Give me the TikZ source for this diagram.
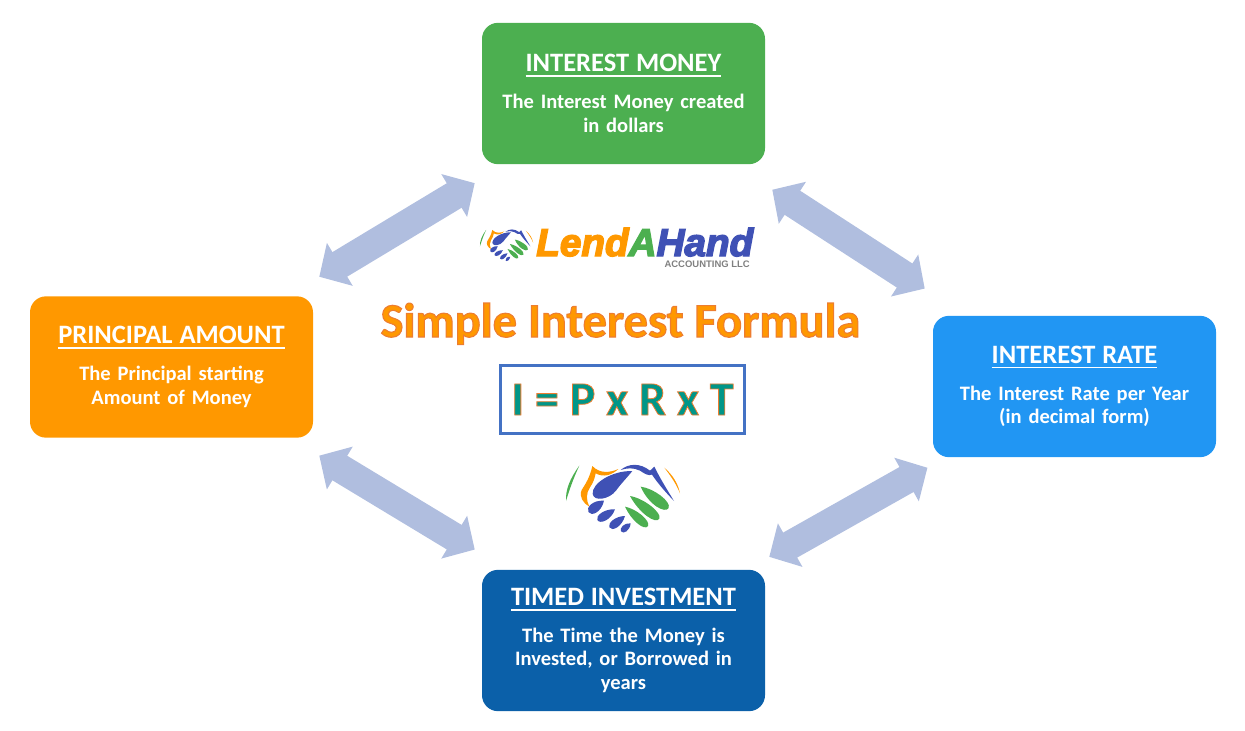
\documentclass[tikz,border=0pt]{standalone}
\usepackage{fontspec}
\setmainfont{Carlito}
\newfontfamily\logofont{Liberation Sans}
\newfontfamily\bodyfont{Carlito}[WordSpace=0.75]
\usetikzlibrary{arrows.meta}
\definecolor{boxgreen}{HTML}{4CAF50}
\definecolor{boxorange}{HTML}{FF9800}
\definecolor{boxblue}{HTML}{2196F3}
\definecolor{boxdark}{HTML}{0B60A9}
\definecolor{arrowblue}{HTML}{B0BEDF}
\definecolor{logoblue}{HTML}{3F51B5}
\definecolor{frameblue}{HTML}{4472C4}
\definecolor{formteal}{HTML}{009688}
\newsavebox{\headbox}
\newcommand{\heading}[1]{\sbox{\headbox}{\fontsize{19.9}{24}\selectfont\bfseries #1}%
  \rlap{\rule[-3.6pt]{\wd\headbox}{1.1pt}}\usebox{\headbox}}
\newcommand{\outl}[2]{\special{pdf:code #1 RG 2 Tr #2 w}}
\newcommand{\noutl}{\special{pdf:code 0 Tr}}
\tikzset{
  infobox/.style={rounded corners=12pt,minimum width=212.25pt,minimum height=106pt,
    inner sep=0pt,text=white,align=center,text width=200pt,
    font=\bodyfont\fontsize{15.4}{17.6}\selectfont\bfseries},
  linkarrow/.style={draw=arrowblue,line width=21.5pt,
    {Triangle[length=18pt,width=36.5pt]}-{Triangle[length=18pt,width=36.5pt]}},
  handfill/.style={fill=logoblue,draw=none}
}
\newcommand{\handshake}{%
  \fill[boxgreen] (88,47) .. controls (60,85) and (46,120) .. (48,153) .. controls (58,120) and (70,85) .. (88,47);
  \fill[boxorange] (205,57) .. controls (180,68) and (150,72) .. (127,48) .. controls (120,80) and (108,100) .. (95,120) .. controls (86,140) and (100,160) .. (118,170) .. controls (108,150) and (108,130) .. (120,112) .. controls (130,98) and (134,85) .. (137,70) .. controls (162,84) and (187,74) .. (205,57);
  \fill[boxorange] (343,53) .. controls (368,75) and (384,100) .. (390,130) .. controls (378,100) and (362,78) .. (343,53);
  \fill[logoblue] (212,60) .. controls (235,40) and (270,38) .. (300,62) -- (313,50) .. controls (330,85) and (352,120) .. (372,153) .. controls (345,125) and (322,98) .. (306,74) .. controls (295,78) and (285,72) .. (270,62) .. controls (250,52) and (230,54) .. (212,60);
  \fill[handfill] (247,63) .. controls (185,62) and (125,100) .. (128,132) .. controls (132,156) and (178,148) .. (198,122) .. controls (212,102) and (232,82) .. (247,63);
  \fill[handfill] (162,152) .. controls (128,150) and (108,172) .. (115,186) .. controls (124,200) and (154,188) .. (162,152);
  \fill[handfill] (195,178) .. controls (162,176) and (136,198) .. (142,210) .. controls (150,224) and (184,210) .. (195,178);
  \fill[handfill] (225,198) .. controls (196,198) and (172,220) .. (178,232) .. controls (186,246) and (216,230) .. (225,198);
  \fill[handfill] (242,220) .. controls (222,218) and (208,234) .. (213,244) .. controls (220,254) and (240,242) .. (242,220);
  \fill[boxgreen] (272,110) .. controls (312,115) and (364,155) .. (356,174) .. controls (346,192) and (296,165) .. (272,110);
  \fill[boxgreen] (240,138) .. controls (282,145) and (336,188) .. (328,206) .. controls (318,224) and (268,190) .. (240,138);
  \fill[boxgreen] (225,170) .. controls (258,176) and (302,212) .. (294,228) .. controls (284,244) and (244,212) .. (225,170);
}
\begin{document}
\begin{tikzpicture}[x=0.75pt,y=-0.75pt]
\useasboundingbox (0,0) rectangle (1245,731);
\node[infobox,fill=boxgreen] (money) at (623.5,93.5) {\heading{INTEREST MONEY}\\[10pt]The Interest Money created\\in dollars};
\node[infobox,fill=boxorange] (principal) at (171.5,367) {\heading{PRINCIPAL AMOUNT}\\[10pt]The Principal starting\\Amount of Money};
\node[infobox,fill=boxblue] (rate) at (1074.5,386.5) {\heading{INTEREST RATE}\\[10pt]The Interest Rate per Year\\(in decimal form)};
\node[infobox,fill=boxdark] (timed) at (623.5,640.5) {\heading{TIMED INVESTMENT}\\[10pt]The Time the Money is\\Invested, or Borrowed in\\years};
\draw[linkarrow] ([shift={(6,-19.3)}]principal.north east) -- ([shift={(-7,18.7)}]money.south west);
\draw[linkarrow] ([shift={(7,25.3)}]money.south east) -- ([shift={(-8,-27)}]rate.north west);
\draw[linkarrow] ([shift={(-5.3,10.3)}]rate.south west) -- ([shift={(4,-12.7)}]timed.north east);
\draw[linkarrow] ([shift={(6,17.7)}]principal.south east) -- ([shift={(-7,-20)}]timed.north west);
\begin{scope}[shift={(550,450)},x=0.25pt,y=-0.25pt]
\handshake
\end{scope}
\begin{scope}[shift={(472.5,222.5)},x=0.1167pt,y=-0.1167pt]
\handshake
\end{scope}
\node[anchor=base west,inner sep=0pt] (logo) at (536,256) {\logofont\fontsize{29}{30}\selectfont\bfseries\itshape
  \color{boxorange}\outl{1 0.6 0}{1.1}Lend\color{boxgreen}\outl{0.3 0.69 0.31}{1.1}A\color{logoblue}\outl{0.25 0.32 0.71}{1.1}Hand\noutl};
\node[anchor=base east,inner sep=0pt,text=gray] (llc) at (750,267) {\logofont\fontsize{7.1}{8}\selectfont\bfseries ACCOUNTING LLC};
\node[inner sep=0pt,anchor=base] (title) at (620.5,337) {\fontsize{36.3}{40}\selectfont\bfseries\color{boxorange}\outl{0.93 0.49 0.19}{0.8}Simple Interest Formula\noutl};
\node[draw=frameblue,line width=2.25pt,minimum width=183pt,minimum height=51pt,inner sep=0pt] (formula) at (622.5,399.5)
  {\fontsize{36}{40}\selectfont\bfseries\color{formteal}\outl{0.93 0.49 0.19}{0.6}I = P x R x T\noutl};
\end{tikzpicture}
\end{document}
